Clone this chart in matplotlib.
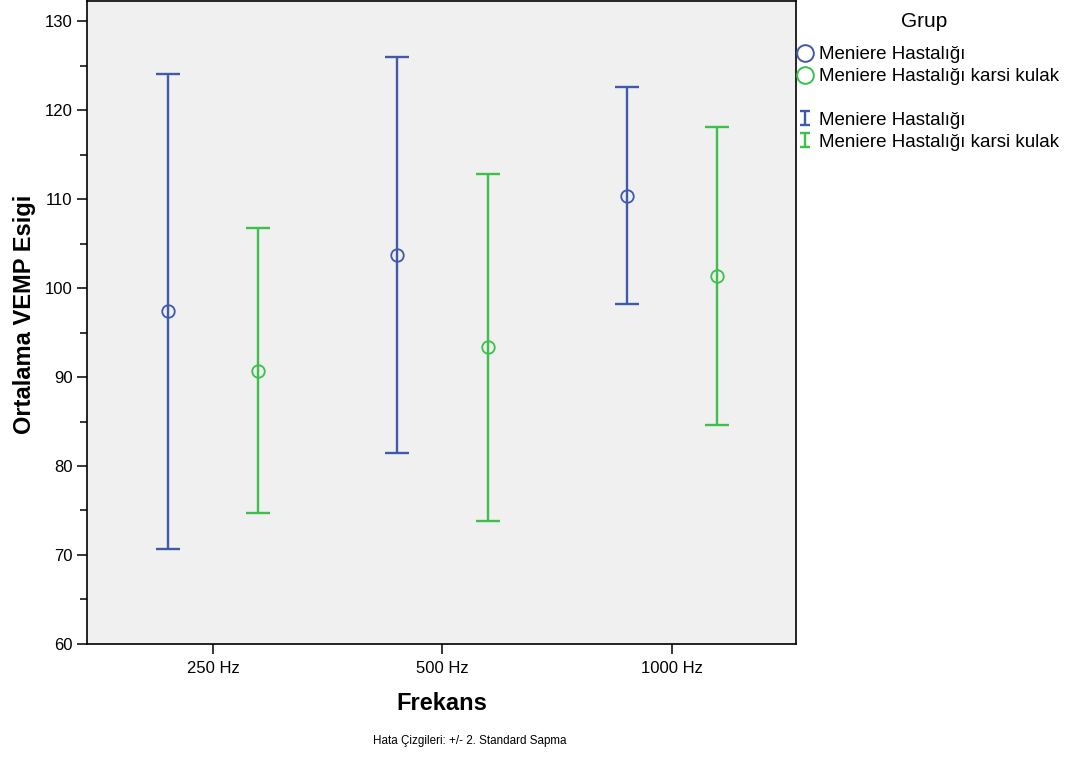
import matplotlib
matplotlib.use("Agg")
import matplotlib.pyplot as plt
from matplotlib.lines import Line2D
from matplotlib.path import Path
from matplotlib.ticker import MultipleLocator
import numpy as np

# Ortalama VEMP esigi ve +/- 2 SD
frekans = ["250 Hz", "500 Hz", "1000 Hz"]
grup_adlari = ["Meniere Hastalığı", "Meniere Hastalığı karsi kulak"]
ort_meniere = [97.4, 103.7, 110.35]
hata_meniere = [26.7, 22.2, 12.2]
ort_karsi = [90.7, 93.35, 101.35]
hata_karsi = [16.0, 19.5, 16.7]

mavi = "#3f5aab"
yesil = "#3dbf4c"

plt.rcParams["font.family"] = ["Liberation Sans", "DejaVu Sans"]

fig = plt.figure(figsize=(10.71, 7.58), dpi=100)
ax = fig.add_axes([0.0812, 0.1504, 0.6620, 0.8483])
ax.set_facecolor("#f0f0f0")

x = np.arange(len(frekans))
kaydir = 0.198

ax.errorbar(x - kaydir, ort_meniere, yerr=hata_meniere, fmt="none",
            ecolor=mavi, elinewidth=1.7, capsize=8.5, capthick=1.7)
ax.errorbar(x + kaydir, ort_karsi, yerr=hata_karsi, fmt="none",
            ecolor=yesil, elinewidth=1.7, capsize=8.5, capthick=1.7)
ax.plot(x - kaydir, ort_meniere, "o", mfc="none", mec=mavi, ms=9, mew=1.3)
ax.plot(x + kaydir, ort_karsi, "o", mfc="none", mec=yesil, ms=9, mew=1.3)

ax.set_xlim(-0.549, 2.54)
ax.set_ylim(60, 132.25)
ax.set_xticks(x)
ax.set_xticklabels(frekans, fontsize=12)
ax.yaxis.set_major_locator(MultipleLocator(10))
ax.yaxis.set_minor_locator(MultipleLocator(5))
ax.set_yticks([60, 70, 80, 90, 100, 110, 120, 130])
ax.tick_params(axis="y", labelsize=12, length=7, width=1.1)
ax.tick_params(axis="y", which="minor", length=5, width=1.1)
ax.tick_params(axis="x", length=7, width=1.1, pad=5)
for s in ax.spines.values():
    s.set_linewidth(1.2)
    s.set_color("black")

ax.set_xlabel("Frekans", fontsize=17, fontweight="bold")
ax.xaxis.set_label_coords(0.5, -0.075)
ax.set_ylabel("Ortalama VEMP Esigi", fontsize=17, fontweight="bold")
ax.yaxis.set_label_coords(-0.072, 0.512)

fig.text(0.439, 0.0224, "Hata Çizgileri: +/- 2. Standard Sapma", fontsize=8.4,
         ha="center", va="center")

# legend
i_isaret = Path([(-0.75, 1), (0.75, 1), (0, 1), (0, -1), (-0.75, -1), (0.75, -1)],
                [Path.MOVETO, Path.LINETO, Path.MOVETO, Path.LINETO,
                 Path.MOVETO, Path.LINETO])
h1 = Line2D([], [], marker="o", ls="none", mfc="none", mec=mavi, ms=12, mew=1.4)
h2 = Line2D([], [], marker="o", ls="none", mfc="none", mec=yesil, ms=12, mew=1.4)
bos = Line2D([], [], alpha=0)
h3 = Line2D([], [], marker=i_isaret, ls="none", mfc="none", mec=mavi, ms=10, mew=1.7)
h4 = Line2D([], [], marker=i_isaret, ls="none", mfc="none", mec=yesil, ms=10, mew=1.7)
handles = [h1, h2, bos, h3, h4]
labels = [grup_adlari[0], grup_adlari[1], " ", grup_adlari[0], grup_adlari[1]]
fig.legend(handles, labels, loc="upper left", bbox_to_anchor=(0.745, 0.939),
           frameon=False, fontsize=13.5,
           handlelength=0.8, handletextpad=0.35, labelspacing=0.25,
           borderaxespad=0.0, borderpad=0.0)
fig.text(0.8627, 0.971, "Grup", fontsize=15, ha="center", va="center")

fig.savefig("out.png", dpi=100)
